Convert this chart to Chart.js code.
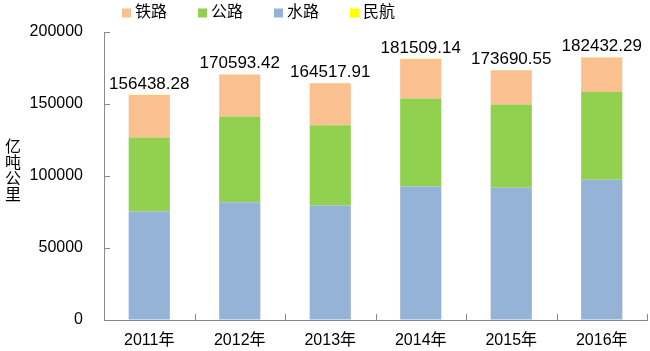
<!DOCTYPE html>
<html>
<head>
<meta charset="utf-8">
<script src="https://cdn.jsdelivr.net/npm/chart.js@4/dist/chart.umd.min.js"></script>
<style>
html,body{margin:0;padding:0;background:#fff;}
#wrap{width:650px;height:351px;position:relative;}
</style>
</head>
<body>
<div id="wrap"><canvas id="c" width="650" height="351"></canvas></div>
<script>
const categories = ['2011年', '2012年', '2013年', '2014年', '2015年', '2016年'];
const rail = [29465.79, 29187.09, 29173.89, 27530.19, 23754.31, 23790.94];
const road = [51374.74, 59534.86, 55738.08, 61016.62, 57955.72, 61080.10];
const water = [75423.84, 81707.58, 79435.65, 92774.56, 91772.45, 97338.80];
const aviation = [173.91, 163.89, 170.29, 187.77, 208.07, 222.45];
const totalLabels = ['156438.28', '170593.42', '164517.91', '181509.14', '173690.55', '182432.29'];
const yTicks = [0, 50000, 100000, 150000, 200000];
const yTitle = '亿吨公里';
const legendOrder = ['铁路', '公路', '水路', '民航'];

const FONT = "'Liberation Sans', Arial, 'Noto Sans CJK SC', sans-serif";
const AXIS = '#898989';

const legendAndExtras = {
  id: 'extras',
  afterDraw(chart) {
    const ctx = chart.ctx;
    const ca = chart.chartArea;
    const xs = chart.scales.x, ys = chart.scales.y;
    ctx.save();
    ctx.strokeStyle = AXIS;
    ctx.lineWidth = 1;
    const n = categories.length;
    const cw = (ca.right - ca.left) / n;
    for (let i = 0; i <= n; i++) {
      const px = Math.round(xs.getPixelForValue(0) - cw / 2 + i * cw) + 0.5;
      ctx.beginPath(); ctx.moveTo(px, ca.bottom); ctx.lineTo(px, ca.bottom - 6); ctx.stroke();
    }
    yTicks.forEach(v => {
      const py = Math.round(ys.getPixelForValue(v)) + 0.5;
      ctx.beginPath(); ctx.moveTo(ca.left, py); ctx.lineTo(ca.left + 6, py); ctx.stroke();
    });
    const topMeta = chart.getDatasetMeta(chart.data.datasets.length - 1);
    ctx.fillStyle = '#000';
    ctx.font = '17px ' + FONT;
    ctx.textAlign = 'center';
    ctx.textBaseline = 'alphabetic';
    topMeta.data.forEach((el, i) => {
      ctx.fillText(totalLabels[i], el.x, el.y - 6);
    });
    ctx.font = '16px ' + FONT;
    ctx.textBaseline = 'middle';
    Array.from(yTitle).forEach((ch, i) => {
      ctx.fillText(ch, 13, 148 + i * 16);
    });
    ctx.textAlign = 'left';
    let x = 122;
    const cy = 13;
    legendOrder.forEach(name => {
      const ds = chart.data.datasets.find(d => d.label === name);
      ctx.fillStyle = ds.backgroundColor;
      ctx.fillRect(x, cy - 4.5, 9, 9);
      ctx.fillStyle = '#000';
      ctx.font = '16px ' + FONT;
      const w = ctx.measureText(name).width;
      ctx.fillText(name, x + 13, cy);
      x += 13 + w + 31;
    });
    ctx.restore();
  }
};

new Chart(document.getElementById('c'), {
  type: 'bar',
  data: {
    labels: categories,
    datasets: [
      { label: '水路', data: water, backgroundColor: '#95B3D7' },
      { label: '公路', data: road, backgroundColor: '#92D050' },
      { label: '铁路', data: rail, backgroundColor: '#FAC090' },
      { label: '民航', data: aviation, backgroundColor: '#FFFF00' }
    ]
  },
  options: {
    responsive: false,
    animation: false,
    devicePixelRatio: 1,
    layout: { padding: { top: 32, right: 3, left: 0, bottom: 0 } },
    datasets: { bar: { categoryPercentage: 1, barPercentage: 0.455, borderWidth: 0 } },
    plugins: { legend: { display: false }, tooltip: { enabled: false } },
    scales: {
      x: {
        stacked: true,
        grid: { display: true, drawOnChartArea: false, drawTicks: false, offset: true },
        border: { display: true, color: AXIS, width: 1 },
        ticks: { color: '#000', font: { family: FONT, size: 16 }, padding: 11, maxRotation: 0 },
        afterFit(s) { s.height = 31; }
      },
      y: {
        stacked: true,
        min: 0, max: 200000,
        grid: { display: true, drawOnChartArea: false, drawTicks: false },
        border: { display: true, color: AXIS, width: 1 },
        ticks: { stepSize: 50000, color: '#000', font: { family: FONT, size: 16 }, padding: 21,
                 callback: v => String(v) },
        afterFit(s) { s.width = 104; }
      }
    }
  },
  plugins: [legendAndExtras]
});
</script>
</body>
</html>
